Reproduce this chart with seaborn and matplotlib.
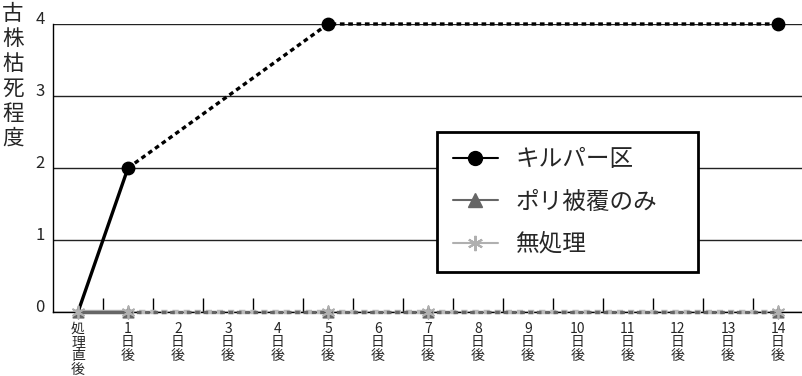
import numpy as np
import matplotlib
matplotlib.use("Agg")
import matplotlib.pyplot as plt
from matplotlib.lines import Line2D
import seaborn as sns

# ---- data ----
day_labels = ["処理直後", "1日後", "2日後", "3日後", "4日後", "5日後", "6日後", "7日後",
              "8日後", "9日後", "10日後", "11日後", "12日後", "13日後", "14日後"]
kilpa_days = [0, 1, 5, 14]
kilpa_vals = [0, 2, 4, 4]
poly_days = [0, 1, 5, 7, 14]
poly_vals = [0, 0, 0, 0, 0]
none_days = [0, 1, 5, 7, 14]
none_vals = [0, 0, 0, 0, 0]
series_names = ["キルパー区", "ポリ被覆のみ", "無処理"]
y_label = "古株枯死程度"

sns.set_style("white")
plt.rcParams["font.family"] = ["Noto Sans CJK JP", "DejaVu Sans"]

fig = plt.figure(figsize=(8.03, 3.76), dpi=100)
ax = fig.add_axes([53 / 803, 64 / 376, 750 / 803, 288 / 376])

dot = (0, (1.4, 1.1))

# 無処理 (light gray)
sns.lineplot(x=none_days[:2], y=none_vals[:2], color="#bbbbbb", lw=3.2, ax=ax, zorder=3, clip_on=False)
sns.lineplot(x=none_days[1:], y=none_vals[1:], color="#bbbbbb", lw=3.2, linestyle=dot, ax=ax, zorder=3, clip_on=False)
# ポリ被覆のみ (dark gray)
sns.lineplot(x=poly_days[:2], y=poly_vals[:2], color="#666666", lw=2.4, ax=ax, zorder=4, clip_on=False)
sns.lineplot(x=poly_days[1:], y=poly_vals[1:], color="#666666", lw=2.4, linestyle=dot, ax=ax, zorder=4, clip_on=False)
# キルパー区 (black)
sns.lineplot(x=kilpa_days[:2], y=kilpa_vals[:2], color="black", lw=2.4, ax=ax, zorder=5, clip_on=False)
sns.lineplot(x=kilpa_days[1:], y=kilpa_vals[1:], color="black", lw=2.4, linestyle=dot, ax=ax, zorder=5, clip_on=False)

# markers
ax.scatter(kilpa_days[1:], kilpa_vals[1:], marker="o", s=80, color="black", zorder=6, clip_on=False)
ax.scatter(poly_days, poly_vals, marker="^", s=60, color="#666666", zorder=6, clip_on=False)
ax.scatter(none_days, none_vals, marker=(6, 2, 0), s=80, color="#b0b0b0", linewidths=1.3, zorder=7, clip_on=False)

ax.set_xlim(-0.5, 14.5)
ax.set_ylim(0, 4)

ax.set_xticks(range(len(day_labels)))
stacked = []
for lab in day_labels:
    if lab.endswith("日後") and lab != "処理直後":
        stacked.append(lab[:-2] + "\n日\n後")
    else:
        stacked.append("\n".join(lab))
ax.set_xticklabels(stacked, fontsize=10, linespacing=0.97, va="top")
ax.set_xticks(np.arange(0.5, 14, 1), minor=True)
ax.tick_params(axis="x", which="major", length=0, pad=7)
ax.tick_params(axis="x", which="minor", direction="in", length=10, width=1, color="black", bottom=True)

ax.set_yticks([0, 1, 2, 3, 4])
ax.set_yticklabels(["0", "1", "2", "3", "4"], fontsize=12, va="baseline")
ax.tick_params(axis="y", length=0, pad=6)

ax.yaxis.grid(True, color="#222222", lw=1)
ax.set_axisbelow(True)
for s in ["top", "right"]:
    ax.spines[s].set_visible(False)
for s in ["left", "bottom"]:
    ax.spines[s].set_color("black")
    ax.spines[s].set_linewidth(1)
ax.set_xlabel("")
ax.set_ylabel("")

fig.text(13 / 803, 1 - 3 / 376, "\n".join(y_label), ha="center", va="top",
         fontsize=15.5, linespacing=1.17)

handles = [
    Line2D([], [], color="black", lw=1.5, marker="o", markersize=10),
    Line2D([], [], color="#666666", lw=1.5, marker="^", markersize=10),
    Line2D([], [], color="#b0b0b0", lw=1.5, marker=(6, 2, 0), markersize=11, markeredgewidth=1.5),
]
leg = ax.legend(handles, series_names, loc="lower left", bbox_to_anchor=(0.512, 0.139, 0.348, 0.5),
                mode="expand", fontsize=17, frameon=True, fancybox=False, framealpha=1,
                edgecolor="black", handlelength=1.9, handletextpad=0.75, labelspacing=0.82,
                borderpad=0.68, borderaxespad=0)
leg.get_frame().set_linewidth(2)

fig.savefig("out.png", dpi=100)
